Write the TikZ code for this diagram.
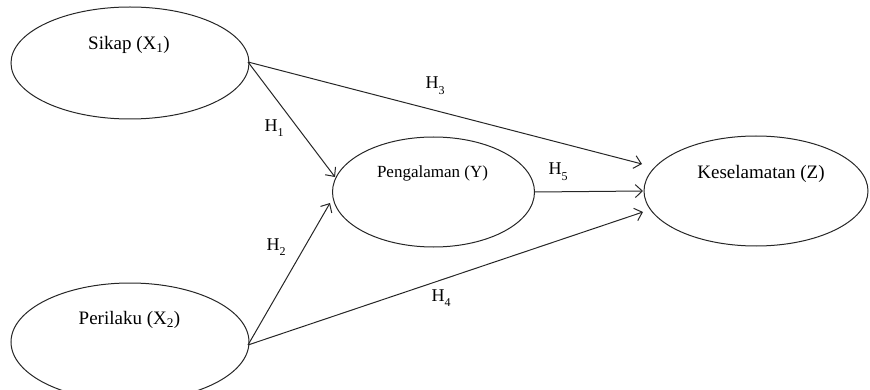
\documentclass[tikz,border=0pt]{standalone}
\usepackage{fontspec}
\setmainfont{Liberation Serif}
\usetikzlibrary{shapes.geometric,arrows.meta}
\newcommand{\hlab}[1]{H\raisebox{-0.32em}{\fontsize{12}{12}\selectfont #1}}
\begin{document}
\begin{tikzpicture}[x=1pt,y=-1pt,
  ell/.style={draw=black!85,line width=1pt,ellipse,inner sep=0pt},
  lbl/.style={font=\fontsize{19}{22}\selectfont,inner sep=0pt},
  hl/.style={font=\fontsize{18}{20}\selectfont,inner sep=0pt},
  arr/.style={draw=black!85,line width=1pt,-{Straight Barb[length=7pt,width=13pt,line width=1pt]}}]
\useasboundingbox (0,0) rectangle (870,390);
\node[ell,minimum width=238pt,minimum height=112pt] (sikap) at (130,63) {};
\node[ell,minimum width=238pt,minimum height=118pt] (perilaku) at (130,342) {};
\node[ell,minimum width=202pt,minimum height=110pt] (peng) at (433.5,192) {};
\node[ell,minimum width=224pt,minimum height=110pt] (kes) at (756,191) {};
\node[lbl] (tsikap) at (129,45) {Sikap (X\textsubscript{1})};
\node[lbl] (tperilaku) at (129.5,320) {Perilaku (X\textsubscript{2})};
\node[lbl,font=\fontsize{17}{20}\selectfont] (tpeng) at (432.5,173) {Pengalaman (Y)};
\node[lbl] (tkes) at (761,174) {Keselamatan (Z)};
\coordinate (s0) at (248,62);
\coordinate (p0) at (248,345);
\coordinate (t1) at (335,177);
\coordinate (t2) at (330,203);
\coordinate (t3) at (642,164);
\coordinate (t4) at (643,212);
\coordinate (t5) at (643,191);
\draw[arr] (s0) -- (t1);
\draw[arr] (s0) -- (t3);
\draw[arr] (p0) -- (t2);
\draw[arr] (p0) -- (t4);
\draw[arr] (peng.east) -- (t5);
\node[hl] (h1) at (274,128) {\hlab{1}};
\node[hl] (h2) at (276,247) {\hlab{2}};
\node[hl] (h3) at (435,86) {\hlab{3}};
\node[hl] (h4) at (441,298) {\hlab{4}};
\node[hl] (h5) at (558,172) {\hlab{5}};
\end{tikzpicture}
\end{document}
